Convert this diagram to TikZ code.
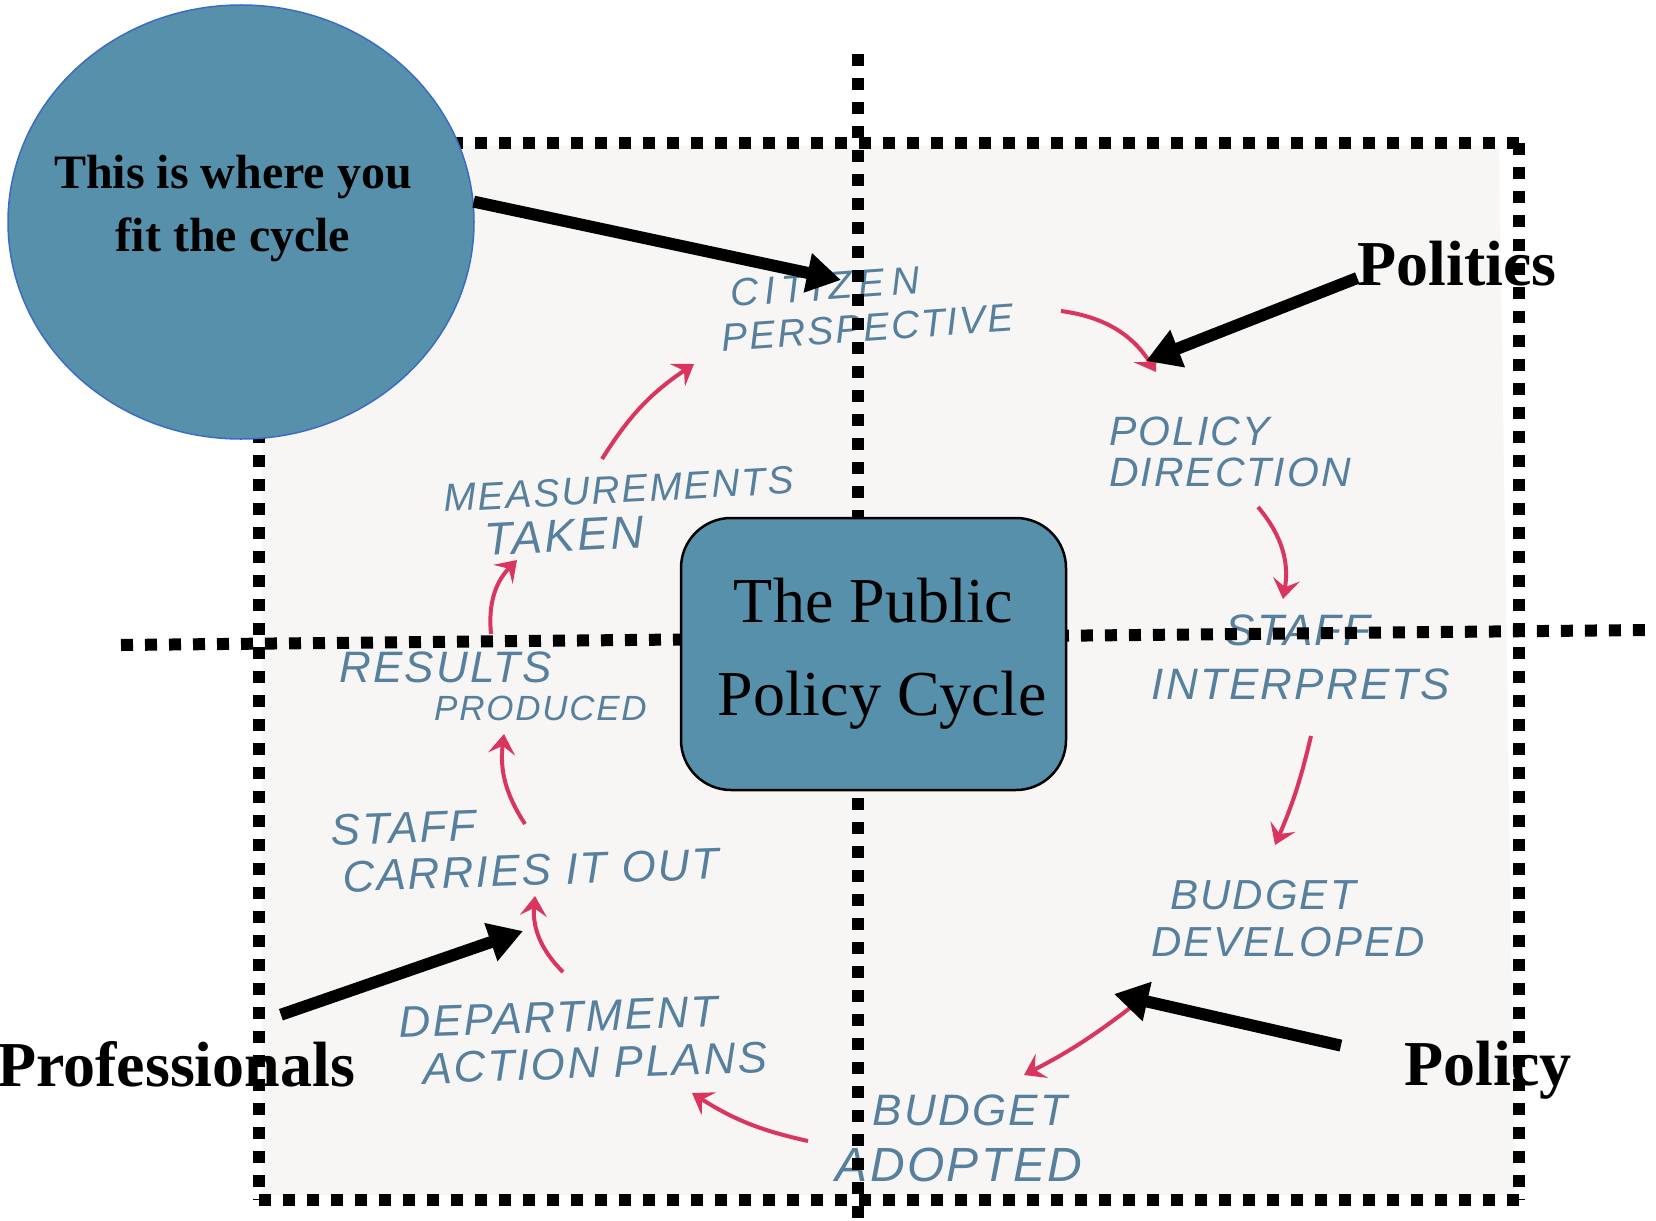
\documentclass[tikz,border=0pt]{standalone}
\usepackage{fontspec}
\setmainfont{Liberation Serif}
\newfontfamily\handfont{Liberation Sans}[ItalicFont=* Italic,LetterSpace=5]
\usetikzlibrary{arrows.meta, shapes.geometric}
\definecolor{cycleblue}{HTML}{5790AB}
\definecolor{circleedge}{HTML}{3B6CC4}
\definecolor{paperwhite}{HTML}{F7F6F4}
\definecolor{inkblue}{HTML}{56809E}
\definecolor{inkred}{HTML}{D9355E}
\tikzset{hand/.style 2 args={text=inkblue, align=left, inner sep=0pt, font=\handfont\itshape\fontsize{#1}{#2}\selectfont}}
\newcommand{\bigline}[2]{{\fontsize{#1}{10}\selectfont #2}}

\begin{document}
\begin{tikzpicture}[x=1pt,y=-1pt]
    \tikzstyle{dots}=[draw=black,line width=12pt,dash pattern=on 12pt off 12pt]
    \tikzstyle{flow}=[draw=inkred,line width=4pt,-{Stealth[length=20pt,width=27pt,inset=8pt]}]
    \tikzstyle{pointer}=[draw=black,line width=12pt,-{Triangle[length=34pt,width=38pt]}]
    \tikzstyle{tag}=[inner sep=0pt,font=\bfseries\fontsize{64}{64}\selectfont]

    \useasboundingbox (0,0) rectangle (1656,1220);
    \fill[white] (0,0) rectangle (1656,1220);
    \fill[paperwhite] (262,146) -- (1499,146) -- (1515,1195) -- (262,1195) -- cycle;

    % Draw the handwritten steps
    \node[hand={39}{44},rotate=4] (citizen) at (866,306) {\hspace*{12pt}{\addfontfeature{LetterSpace=16}CITIZEN}\\PERSPECTIVE};
    \node[hand={41}{41}] (policy) at (1230,452) {POLICY\\DIRECTION};
    \node[hand={44}{54}] (interprets) at (1301,657) {\hspace*{74pt}STAFF\\INTERPRETS};
    \node[hand={42}{47}] (developed) at (1288,919) {\hspace*{19pt}BUDGET\\DEVELOPED};
    \node[hand={44}{56}] (adopted) at (959,1138) {\hspace*{37pt}BUDGET\\\bigline{48}{ADOPTED}};
    \node[hand={44}{47},rotate=2] (department) at (583,1040) {DEPARTMENT\\\hspace*{22pt}ACTION PLANS};
    \node[hand={44}{47},rotate=2] (carries) at (525,847) {STAFF\\\hspace*{10pt}CARRIES IT OUT};
    \node[hand={35}{38}] (results) at (493,686) {\bigline{44}{RESULTS}\\\hspace*{95pt}PRODUCED};
    \node[hand={39}{46},rotate=3] (measures) at (620,512) {MEASUREMENTS\\\hspace*{39pt}\bigline{46}{TAKEN}};

    % Draw the red flow between steps
    \draw[flow] ([shift={(195,5)}]citizen.center) to[bend left=25] ([shift={(-74,-80)}]policy.center);
    \draw[flow] ([shift={(28,55)}]policy.center) to[bend left=25] ([shift={(53,147)}]policy.center);
    \draw[flow] ([shift={(10,79)}]interprets.center) to[bend left=5] ([shift={(-26,188)}]interprets.center);
    \draw[flow] ([shift={(-158,89)}]developed.center) to[bend left=5] ([shift={(-264,156)}]developed.center);
    \draw[flow] ([shift={(-151,3)}]adopted.center) to[bend left=10] ([shift={(-267,-45)}]adopted.center);
    \draw[flow] ([shift={(-20,-68)}]department.center) to[bend left=25] ([shift={(-48,-144)}]department.center);
    \draw[flow] ([shift={(0,-23)}]carries.center) to[bend left=20] ([shift={(-21,-113)}]carries.center);
    \draw[flow] ([shift={(-2,-52)}]results.center) to[bend right=-25] ([shift={(24,-126)}]results.center);
    \draw[flow] ([shift={(-18,-53)}]measures.center) to[bend right=-12] ([shift={(74,-148)}]measures.center);

    % Draw the dotted quadrants
    \coordinate (nw) at (259,143);
    \coordinate (ne) at (1519,143);
    \coordinate (se) at (1519,1200);
    \coordinate (sw) at (259,1200);
    \draw[dots] (nw) -- (ne);
    \draw[dots] (ne) -- (se);
    \draw[dots] (sw) -- (se);
    \draw[dots] (nw) -- (sw);
    \coordinate (axisN) at (857.5,54);
    \coordinate (axisS) at (857.5,1218);
    \coordinate (axisW) at (121,645);
    \coordinate (axisE) at (1645,630);
    \draw[dots] (axisN) -- (axisS);
    \draw[dots] (axisW) -- (axisE);

    % Draw the two blue shapes
    \node[ellipse,draw=circleedge,line width=1.5pt,fill=cycleblue,minimum width=466pt,minimum height=434pt,inner sep=0pt] (where) at (241,222) {};
    \node[inner sep=0pt,align=center,font=\bfseries\fontsize{48}{63}\selectfont] (wheretext) at (233,209) {This is where you\\fit the cycle};
    \node[rectangle,rounded corners=50pt,draw=black,line width=2.5pt,fill=cycleblue,minimum width=385pt,minimum height=272pt,inner sep=0pt,align=center,font=\fontsize{64}{93}\selectfont] (cycle) at (873.5,654) {The Public\\\hspace*{17pt}Policy Cycle};

    % Draw the labels and pointers
    \node[tag] (politics) at (1457,264) {Politics};
    \node[tag] (professionals) at (176,1064) {Professionals};
    \node[tag] (policytag) at (1488,1070) {Policy};
    \coordinate (tipCitizen) at (841,280);
    \coordinate (tipPolitics) at (1146,361);
    \coordinate (tipProf) at (523,931);
    \coordinate (tipPolicy) at (1114,994);
    \draw[pointer] (where.5) -- (tipCitizen);
    \draw[pointer] ([yshift=-14pt]politics.west) -- (tipPolitics);
    \draw[pointer,shorten <=111pt] ([yshift=13pt]professionals.center) -- (tipProf);
    \draw[pointer,shorten <=65pt] ([yshift=10pt]policytag.west) -- (tipPolicy);
\end{tikzpicture}
\end{document}
